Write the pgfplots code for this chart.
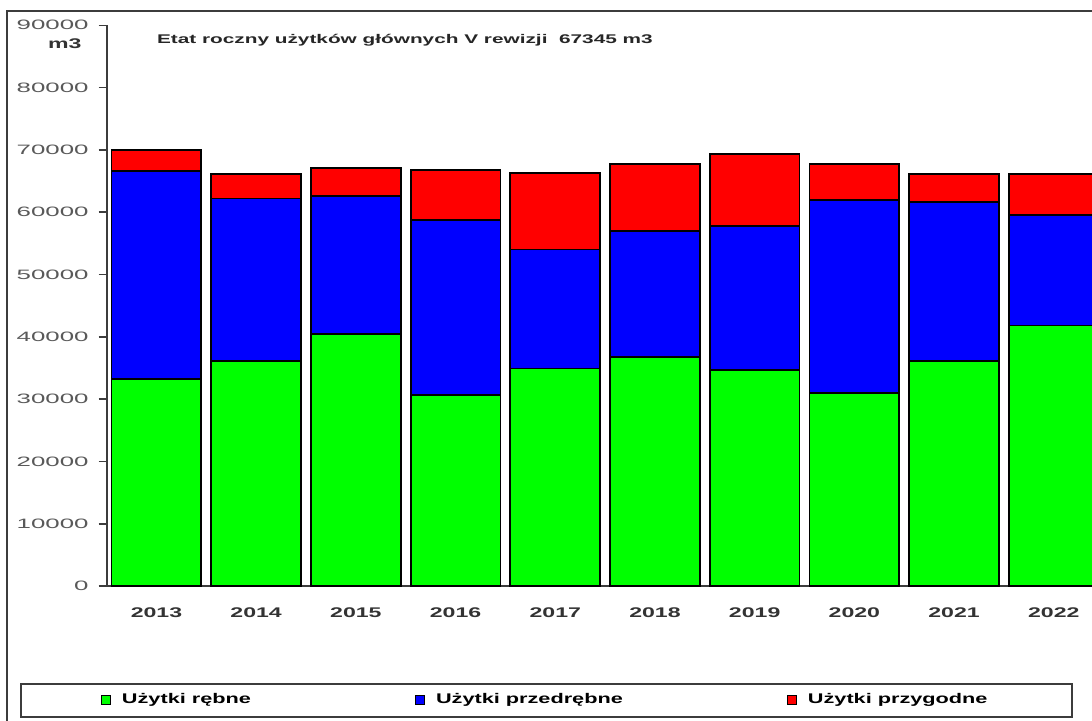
\documentclass[border=0pt]{standalone}
\usepackage{pgfplots}
\pgfplotsset{compat=1.18}
\usepackage{fontspec}
\setmainfont{Liberation Sans}
\definecolor{cgreen}{RGB}{0,255,0}
\definecolor{cblue}{RGB}{0,0,255}
\definecolor{cred}{RGB}{255,0,0}
\definecolor{axgray}{RGB}{60,60,60}
\newcommand{\sx}[1]{\scalebox{1.65}[1]{#1}}
\newcommand{\sy}[1]{\scalebox{1.9}[1]{#1}}
\newcommand{\slg}[1]{\scalebox{1.55}[1]{#1}}
\begin{document}
\begin{tikzpicture}
\useasboundingbox (0,0) rectangle (546pt,360pt);
\begin{scope}
\clip (0,0) rectangle (546pt,360pt);
% outer frame
\draw[axgray, line width=1.1pt] (3.5pt,-5pt) -- (3.5pt,354.5pt) -- (560pt,354.5pt);
\begin{axis}[
  at={(53.3pt,67pt)}, anchor=south west,
  scale only axis,
  width=498.5pt, height=280.35pt,
  xmin=-0.5, xmax=9.5, ymin=0, ymax=90000,
  scaled y ticks=false,
  ybar stacked, bar width=0.9,
  axis x line*=bottom, axis y line*=left,
  axis line style={axgray, line width=0.9pt},
  xtick={0,...,9},
  xticklabels={\sx{2013},\sx{2014},\sx{2015},\sx{2016},\sx{2017},\sx{2018},\sx{2019},\sx{2020},\sx{2021},\sx{2022}},
  xtick style={draw=none},
  minor xtick={-0.5,0.5,...,9.5},
  minor x tick style={axgray, line width=0.8pt},
  tick align=outside,
  minor tick length=2.8pt,
  xticklabel style={font=\fontsize{7}{8}\selectfont\bfseries, text=black!80, yshift=-3.5pt},
  ytick={0,10000,...,90000},
  yticklabels={\sy{0},\sy{10000},\sy{20000},\sy{30000},\sy{40000},\sy{50000},\sy{60000},\sy{70000},\sy{80000},\sy{90000}},
  ytick style={axgray, line width=0.8pt},
  major tick length=4pt,
  yticklabel style={font=\fontsize{6.8}{8}\selectfont, text=black!65, xshift=-1.5pt},
  every axis plot/.append style={draw=black, line width=0.9pt},
  legend columns=3,
  legend style={
    at={(0.441,-0.204)}, anchor=center,
    draw=axgray, line width=1pt,
    font=\fontsize{7}{8}\selectfont\bfseries,
    inner xsep=40pt, inner ysep=3pt,
    /tikz/every odd column/.append style={column sep=3.5pt},
    /tikz/every even column/.append style={column sep=80pt},
  },
  legend image code/.code={\draw[#1, line width=0.4pt] (0pt,-2.2pt) rectangle (4.6pt,2.4pt);},
]
\addplot[fill=cgreen] coordinates {(0,33200) (1,36100) (2,40400) (3,30700) (4,34900) (5,36700) (6,34700) (7,31000) (8,36100) (9,41800)};
\addplot[fill=cblue] coordinates {(0,33400) (1,26100) (2,22200) (3,28000) (4,19100) (5,20300) (6,23100) (7,31000) (8,25500) (9,17800)};
\addplot[fill=cred] coordinates {(0,3400) (1,3900) (2,4500) (3,8100) (4,12300) (5,10700) (6,11500) (7,5700) (8,4500) (9,6500)};
\legend{\slg{Użytki rębne},\slg{Użytki przedrębne},\slg{Użytki przygodne}}
\end{axis}
\node[anchor=east, inner sep=0pt, font=\fontsize{7}{8}\selectfont\bfseries, text=black!80] at (41pt,338pt) {\sx{m3}};
\node[anchor=west, font=\fontsize{6.3}{7}\selectfont\bfseries, text=black!85] at (75pt,340pt) {\sx{Etat roczny użytków głównych V rewizji\ \ 67345 m3}};
\end{scope}
\end{tikzpicture}
\end{document}
